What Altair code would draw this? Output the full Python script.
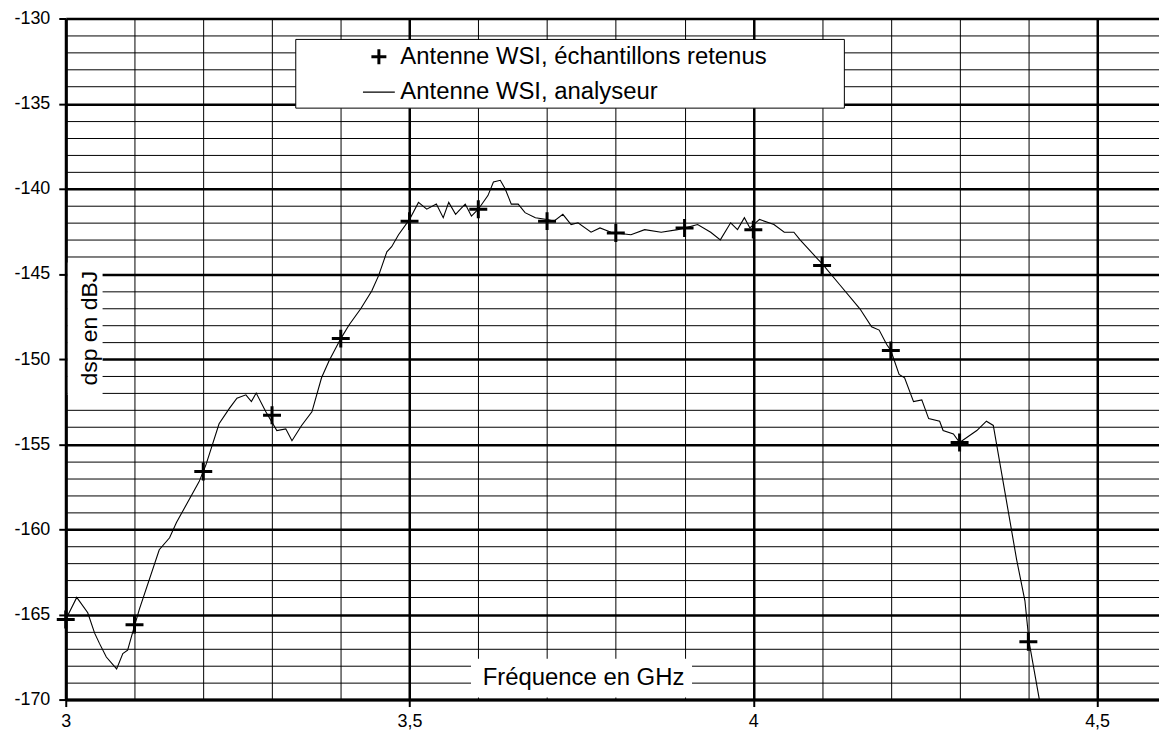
import altair as alt
import pandas as pd

# ---------------- data ----------------
serie_echantillons = "Antenne WSI, échantillons retenus"
serie_analyseur = "Antenne WSI, analyseur"
x_title = "Fréquence en GHz"
y_title = "dsp en dBJ"

freq_analyseur = [
    3.000, 3.016, 3.032, 3.042, 3.049, 3.059, 3.074, 3.083, 3.090, 3.097,
    3.107, 3.136, 3.151, 3.161, 3.194, 3.204, 3.223, 3.238, 3.249, 3.262,
    3.270, 3.277, 3.291, 3.307, 3.320, 3.329, 3.343, 3.358, 3.372, 3.383,
    3.400, 3.412, 3.429, 3.445, 3.455, 3.467, 3.474, 3.484, 3.500, 3.513,
    3.525, 3.539, 3.549, 3.557, 3.567, 3.574, 3.581, 3.590, 3.600, 3.614,
    3.622, 3.632, 3.639, 3.648, 3.658, 3.668, 3.683, 3.700, 3.710, 3.723,
    3.735, 3.745, 3.764, 3.777, 3.793, 3.800, 3.822, 3.842, 3.866, 3.890,
    3.900, 3.919, 3.938, 3.952, 3.967, 3.977, 3.987, 3.995, 4.009, 4.030,
    4.045, 4.059, 4.068, 4.093, 4.100, 4.126, 4.155, 4.172, 4.183, 4.194,
    4.200, 4.212, 4.220, 4.233, 4.245, 4.255, 4.271, 4.276, 4.291, 4.300,
    4.325, 4.339, 4.349, 4.358, 4.368, 4.383, 4.395, 4.401, 4.416,
]
dsp_analyseur = [
    -165.3, -164.0, -164.9, -166.1, -166.7, -167.5, -168.2, -167.3, -167.1, -166.1,
    -164.7, -161.2, -160.5, -159.6, -157.2, -156.2, -153.8, -152.9, -152.3, -152.1,
    -152.5, -152.0, -153.1, -154.2, -154.1, -154.8, -153.9, -153.1, -151.1, -150.1,
    -148.8, -148.0, -147.05, -146.0, -145.1, -143.7, -143.4, -142.7, -141.8, -140.8,
    -141.2, -140.9, -141.7, -140.8, -141.5, -141.2, -140.9, -141.6, -141.2, -140.4,
    -139.6, -139.5, -140.0, -140.9, -140.9, -141.4, -141.7, -141.8, -141.9, -141.5,
    -142.1, -142.0, -142.55, -142.3, -142.55, -142.6, -142.7, -142.4, -142.55, -142.4,
    -142.3, -142.1, -142.55, -143.0, -142.0, -142.4, -141.7, -142.3, -141.8, -142.1,
    -142.55, -142.55, -143.0, -144.1, -144.4, -145.65, -147.05, -148.1, -148.3, -149.15,
    -149.5, -150.9, -151.1, -152.5, -152.4, -153.5, -153.65, -154.2, -154.4, -154.9,
    -154.2, -153.65, -153.9, -155.98, -158.3, -161.8, -164.2, -166.6, -170.0,
]

freq_echantillons = [3.0, 3.1, 3.2, 3.3, 3.4, 3.5, 3.6, 3.7, 3.8, 3.9, 4.0, 4.1, 4.2, 4.3, 4.4]
dsp_echantillons = [-165.3, -165.6, -156.6, -153.3, -148.8, -141.9, -141.2, -141.9,
                    -142.6, -142.3, -142.4, -144.5, -149.5, -154.9, -166.6]

x_grid_values = [3.0, 3.1, 3.2, 3.3, 3.4, 3.5, 3.6, 3.7, 3.8, 3.9, 4.0, 4.1, 4.2, 4.3, 4.4, 4.5]
y_grid_values = list(range(-170, -129))

line_df = pd.DataFrame({"f": freq_analyseur, "dsp": dsp_analyseur})
pts_df = pd.DataFrame({"f": freq_echantillons, "dsp": dsp_echantillons,
                       "serie": [serie_echantillons] * len(freq_echantillons)})

# ---------------- styling ----------------
FONT = "Liberation Sans"
major_x = "abs(datum.value * 2 - round(datum.value * 2)) < 0.001"
major_y = "datum.value % 5 === 0"

x_scale = alt.Scale(domain=[3, 4.59], nice=False, zero=False)
y_scale = alt.Scale(domain=[-170, -130], nice=False, zero=False)

x_axis = alt.Axis(
    values=x_grid_values, title=None, grid=True, gridColor="black",
    gridWidth={"condition": {"test": major_x, "value": 2.5}, "value": 1},
    labelExpr=f"({major_x}) ? replace(toString(datum.value), '.', ',') : ''",
    labelFont=FONT, labelFontSize=18, labelColor="black", labelPadding=6,
    labelFlush=False, labelOverlap=False,
    tickColor="black", tickWidth=2, tickSize=7,
    tickOpacity={"condition": {"test": major_x, "value": 1}, "value": 0},
    domainColor="black", domainWidth=3,
)
y_axis = alt.Axis(
    values=y_grid_values, title=None, grid=True, gridColor="black",
    gridWidth={"condition": {"test": major_y, "value": 2.5}, "value": 1},
    labelExpr=f"({major_y}) ? toString(datum.value) : ''",
    labelFont=FONT, labelFontSize=18, labelColor="black", labelPadding=9,
    labelFlush=False, labelOverlap=False,
    tickColor="black", tickWidth=2, tickSize=7,
    tickOpacity={"condition": {"test": major_y, "value": 1}, "value": 0},
    domainColor="black", domainWidth=3,
)

cross_path = "M-0.47,0H0.47M0,-0.47V0.47"
line_path = "M-1,0H1"
series_domain = [serie_echantillons, serie_analyseur]

line = alt.Chart(line_df).mark_line(color="black", strokeWidth=1.1, clip=True).encode(
    x=alt.X("f:Q", scale=x_scale, axis=x_axis),
    y=alt.Y("dsp:Q", scale=y_scale, axis=y_axis),
)

legend_opts = dict(
    title=None, orient="none", legendX=297, legendY=21, direction="vertical",
    labelFont=FONT, labelFontSize=24, labelColor="black", labelLimit=1000, labelOffset=4,
    symbolSize=1024, symbolStrokeColor="black", symbolFillColor="transparent",
    rowPadding=4, padding=0,
)

points = alt.Chart(pts_df).mark_point(
    filled=False, color="black", size=1470, opacity=1
).encode(
    x=alt.X("f:Q", scale=x_scale, axis=x_axis),
    y=alt.Y("dsp:Q", scale=y_scale, axis=y_axis),
    shape=alt.Shape(
        "serie:N",
        scale=alt.Scale(domain=series_domain, range=[cross_path, line_path]),
        legend=alt.Legend(**legend_opts),
    ),
    strokeWidth=alt.StrokeWidth(
        "serie:N",
        scale=alt.Scale(domain=series_domain, range=[3, 1.2]),
        legend=alt.Legend(**legend_opts),
    ),
)

one = alt.Data(values=[{"k": 1}])

legend_box = alt.Chart(one).mark_rect(fill="white", stroke="black", strokeWidth=1).encode(
    x=alt.value(231), x2=alt.value(782), y=alt.value(21), y2=alt.value(90)
)
ylab_bg = alt.Chart(one).mark_rect(fill="white").encode(
    x=alt.value(2), x2=alt.value(37), y=alt.value(245), y2=alt.value(378)
)
ylab = alt.Chart(one).mark_text(
    angle=270, font=FONT, fontSize=23, color="black", align="center", baseline="middle"
).encode(x=alt.value(24), y=alt.value(311), text=alt.value(y_title))
xlab_bg = alt.Chart(one).mark_rect(fill="white").encode(
    x=alt.value(407), x2=alt.value(629), y=alt.value(643), y2=alt.value(682)
)
xlab = alt.Chart(one).mark_text(
    font=FONT, fontSize=24, color="black", align="center", baseline="middle"
).encode(x=alt.value(520), y=alt.value(662), text=alt.value(x_title))

chart = alt.layer(line, points, legend_box, ylab_bg, ylab, xlab_bg, xlab).properties(
    width=1098, height=684,
    autosize=alt.AutoSizeParams(type="none"),
    padding={"left": 58, "top": 9, "right": 0, "bottom": 29},
    background="white",
).configure_view(stroke=None)

chart.save("out.html", embed_options={"renderer": "svg", "actions": False})
